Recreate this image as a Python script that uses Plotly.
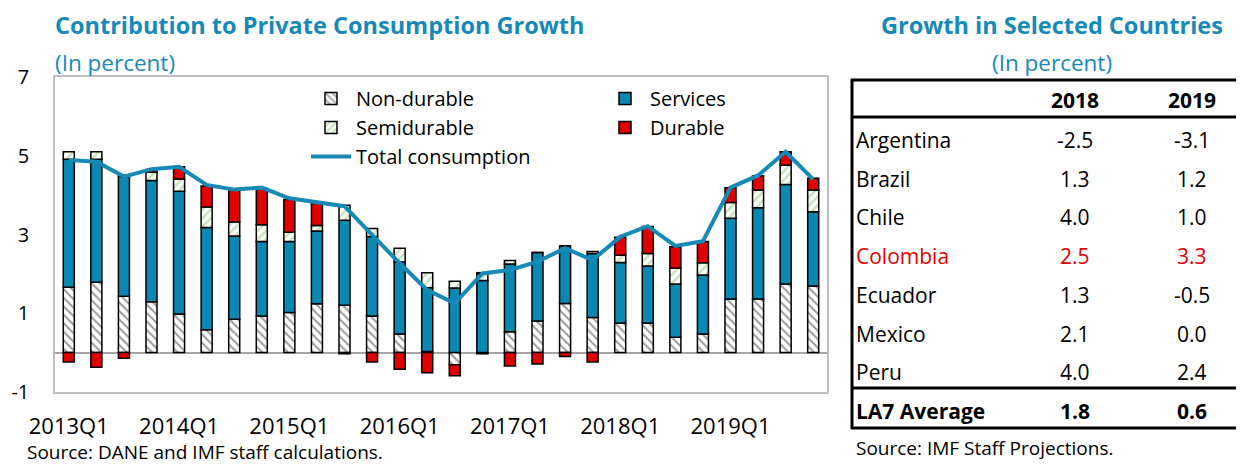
import plotly.graph_objects as go

W, H = 1244, 464
OFF = 8  # page body margin offset

quarters = [f"{y}Q{q}" for y in range(2013, 2020) for q in range(1, 5)]
tick_labels = [f"{y}Q1" for y in range(2013, 2020)]
y_ticks = [-1, 1, 3, 5, 7]
y_tick_text = ["-1", "1", "3", "5", "7"]

non_durable = [1.66, 1.79, 1.43, 1.29, 0.98, 0.58, 0.85, 0.93, 1.02, 1.24, 1.20, 0.93, 0.47, 0.03,
               -0.31, -0.03, 0.53, 0.80, 1.25, 0.89, 0.75, 0.75, 0.39, 0.47, 1.36, 1.36, 1.74, 1.69]
services = [3.25, 3.12, 3.04, 3.08, 3.12, 2.60, 2.11, 1.89, 1.80, 1.85, 2.16, 2.02, 1.83, 1.62,
            1.64, 1.83, 1.72, 1.74, 1.46, 1.63, 1.54, 1.45, 1.35, 1.50, 2.05, 2.32, 2.53, 1.89]
semidurable = [0.19, 0.19, 0.04, 0.21, 0.31, 0.52, 0.36, 0.43, 0.24, 0.14, 0.38, 0.20, 0.35, 0.38,
               0.17, 0.17, 0.09, 0.00, 0.00, 0.05, 0.18, 0.32, 0.40, 0.31, 0.40, 0.45, 0.49, 0.55]
durable = [-0.24, -0.37, -0.14, 0.07, 0.31, 0.53, 0.81, 0.92, 0.83, 0.56, -0.03, -0.24, -0.42, -0.51,
           -0.28, 0.03, -0.34, -0.29, -0.10, -0.24, 0.46, 0.68, 0.55, 0.54, 0.38, 0.36, 0.34, 0.30]
total = [4.89, 4.85, 4.47, 4.66, 4.72, 4.26, 4.14, 4.19, 3.92, 3.83, 3.72, 2.99, 2.27, 1.59,
         1.25, 2.01, 2.10, 2.31, 2.65, 2.35, 2.94, 3.21, 2.71, 2.83, 4.19, 4.50, 5.10, 4.40]

countries = ["Argentina", "Brazil", "Chile", "Colombia", "Ecuador", "Mexico", "Peru"]
growth_2018 = ["-2.5", "1.3", "4.0", "2.5", "1.3", "2.1", "4.0"]
growth_2019 = ["-3.1", "1.2", "1.0", "3.3", "-0.5", "0.0", "2.4"]
avg_label = "LA7 Average"
avg_2018 = "1.8"
avg_2019 = "0.6"

TEAL = "#1789B7"
SERV = "#0A88B2"
RED = "#E00000"
FONT = "Open Sans"

def px(x):
    return (x - OFF) / W

def py(y):
    return 1 - (y - OFF) / H

fig = go.Figure()
fig.add_trace(go.Bar(
    x=quarters, y=non_durable, name="Non-durable", legend="legend", legendgroup="a",
    marker=dict(color="white", line=dict(color="black", width=1.5),
                pattern=dict(shape="\\", fgcolor="#3A3A3A", bgcolor="white", size=6, solidity=0.35)),
))
fig.add_trace(go.Bar(
    x=quarters, y=services, name="Services", legend="legend2", legendgroup="b",
    marker=dict(color=SERV, line=dict(color="black", width=1.5)),
))
fig.add_trace(go.Bar(
    x=quarters, y=semidurable, name="Semidurable", legend="legend", legendgroup="c",
    marker=dict(color="white", line=dict(color="black", width=1.5),
                pattern=dict(shape="/", fgcolor="#8DC26B", bgcolor="white", size=6, solidity=0.4)),
))
fig.add_trace(go.Bar(
    x=quarters, y=durable, name="Durable", legend="legend2", legendgroup="d",
    marker=dict(color=RED, line=dict(color="black", width=1.5)),
))
fig.add_trace(go.Scatter(
    x=quarters, y=total, name="Total consumption", mode="lines", legend="legend", legendgroup="e",
    line=dict(color=TEAL, width=4),
))

annotations = []
def ann(text, x, y, size=21, color="black", xanchor="left", bold=False):
    if bold:
        text = f"<b>{text}</b>"
    annotations.append(dict(text=text, x=px(x), y=py(y), xref="paper", yref="paper",
                            xanchor=xanchor, yanchor="middle", showarrow=False, borderpad=0,
                            font=dict(family=FONT, size=size, color=color)))

ann("Contribution to Private Consumption Growth", 54, 25, size=23.5, color=TEAL, bold=True)
ann("(In percent)", 54, 62, size=22.5, color=TEAL)
ann("Source: DANE and IMF staff calculations.", 26, 452, size=19)

ann("Growth in Selected Countries", 1052, 25, size=23.5, color=TEAL, xanchor="center", bold=True)
ann("(In percent)", 1052, 63, size=22.5, color=TEAL, xanchor="center")
ann("2018", 1075, 100, xanchor="center", bold=True)
ann("2019", 1192, 100, xanchor="center", bold=True)
row_y = [140, 178.5, 217, 256, 295, 333.5, 372]
for c, a, b, yy in zip(countries, growth_2018, growth_2019, row_y):
    col = RED if c == "Colombia" else "black"
    ann(c, 855, yy, color=col)
    ann(a, 1075, yy, color=col, xanchor="center")
    ann(b, 1192, yy, color=col, xanchor="center")
ann(avg_label, 855, 411, bold=True)
ann(avg_2018, 1075, 411, xanchor="center", bold=True)
ann(avg_2019, 1192, 411, xanchor="center", bold=True)
ann("Source: IMF Staff Projections.", 855, 448, size=19)

shapes = []
def hline(y, x0=851, x1=1244, w=3):
    shapes.append(dict(type="line", xref="paper", yref="paper", x0=px(x0), x1=px(x1),
                       y0=py(y), y1=py(y), line=dict(color="black", width=w)))
hline(80)
hline(117)
hline(388)
hline(428)
shapes.append(dict(type="line", xref="paper", yref="paper", x0=px(852), x1=px(852),
                   y0=py(79), y1=py(429), line=dict(color="black", width=3)))

fig.update_layout(
    width=W, height=H, autosize=False,
    margin=dict(l=0, r=0, t=0, b=0, pad=0, autoexpand=False),
    paper_bgcolor="white", plot_bgcolor="white",
    barmode="relative", bargap=0.6,
    font=dict(family=FONT, size=16, color="black"),
    xaxis=dict(domain=[px(55), px(827)], type="category", categoryorder="array",
               categoryarray=quarters, tickmode="array", tickvals=tick_labels, ticktext=tick_labels,
               showline=True, mirror=True, linecolor="#BFBFBF", linewidth=1.5,
               showgrid=False, ticks="", ticklabelstandoff=14, automargin=False,
               tickfont=dict(family=FONT, size=22)),
    yaxis=dict(domain=[py(392), py(77)], range=[-1, 7], tickmode="array",
               tickvals=y_ticks, ticktext=y_tick_text,
               showline=True, mirror=True, linecolor="#BFBFBF", linewidth=1.5,
               showgrid=False, zeroline=True, zerolinecolor="#A6A6A6", zerolinewidth=1.5,
               ticks="", ticklabelstandoff=20, automargin=False,
               tickfont=dict(family=FONT, size=20)),
    legend=dict(x=px(306), y=py(79), xanchor="left", yanchor="top", bgcolor="rgba(0,0,0,0)",
                font=dict(family=FONT, size=20), tracegroupgap=11, itemwidth=40,
                traceorder="normal"),
    legend2=dict(x=px(600), y=py(79), xanchor="left", yanchor="top", bgcolor="rgba(0,0,0,0)",
                 font=dict(family=FONT, size=20), tracegroupgap=11, itemwidth=40,
                 traceorder="normal"),
    annotations=annotations,
    shapes=shapes,
)

fig.write_html("out.html")
